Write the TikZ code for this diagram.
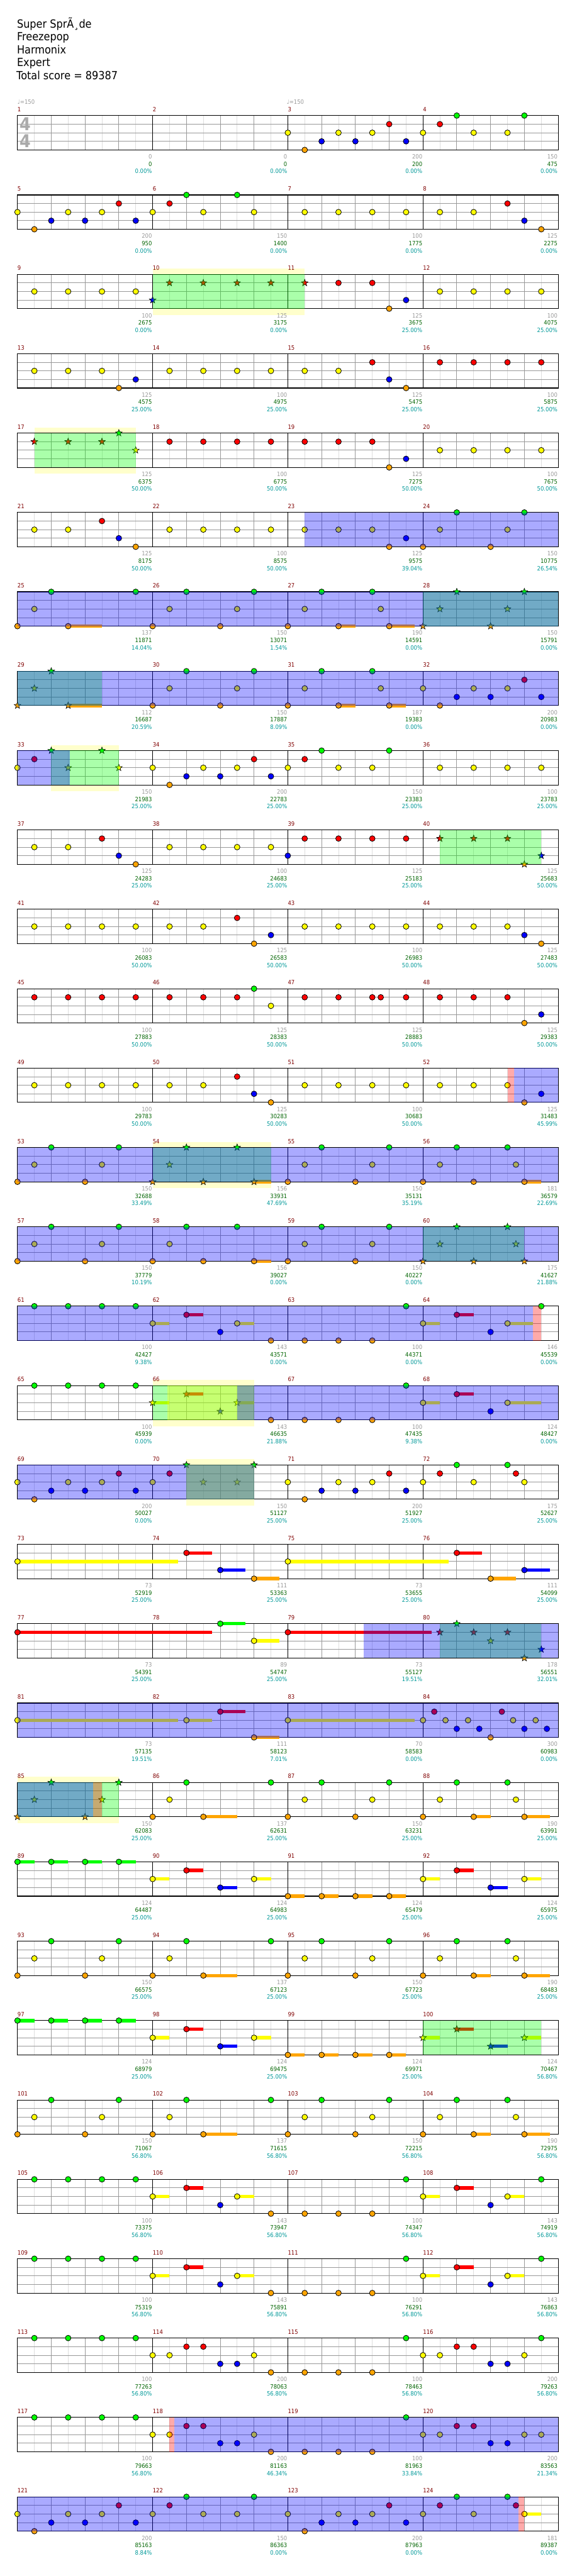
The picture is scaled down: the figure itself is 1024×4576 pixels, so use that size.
\documentclass[tikz,border=0pt]{standalone}
\usepackage{fontspec}
\setmainfont{DejaVu Sans}[FakeStretch=0.9]
\usetikzlibrary{shapes.geometric}

\definecolor{lane0}{RGB}{0,255,0}
\definecolor{lane1}{RGB}{255,0,0}
\definecolor{lane2}{RGB}{255,255,0}
\definecolor{lane3}{RGB}{0,0,255}
\definecolor{lane4}{RGB}{255,165,0}
\definecolor{barred}{RGB}{128,0,0}
\definecolor{gaingray}{RGB}{153,153,153}
\definecolor{metergray}{RGB}{170,170,170}
\definecolor{totalgreen}{RGB}{0,100,0}
\definecolor{pctcyan}{RGB}{0,153,153}
\definecolor{bandyellow}{RGB}{255,255,204}

\tikzset{
  chart/row/.style={shift={(31,{205.3+141*#1})}, /utils/exec={\def\currow{#1}}},
  chart/half/.style={draw=black!13, line width=1pt},
  chart/beat/.style={draw=gaingray, line width=1pt},
  chart/lane/.style={draw=gaingray, line width=1pt},
  chart/bar/.style={draw=black, line width=1pt},
  chart/frame/.style={draw=black, line width=1.2pt},
  chart/note/.style={circle, draw=black, line width=0.9pt, minimum size=10pt, inner sep=0pt},
  chart/star/.style={star, star points=5, star point ratio=2.4, draw=black, line width=0.7pt, minimum size=12.5pt, inner sep=0pt},
  chart/sus/.style={line width=6pt},
  chart/zone/.style={fill opacity=0.3333},
  chart/band/.style={fill=bandyellow},
  chart/label/.style={inner sep=0pt, font=\fontsize{10.5}{12}\selectfont},
  chart/barno/.style={chart/label, text=barred, anchor=base west},
  chart/gain/.style={chart/label, text=gaingray, anchor=base east},
  chart/total/.style={chart/label, text=totalgreen, anchor=base east},
  chart/pct/.style={chart/label, text=pctcyan, anchor=base east},
  chart/tempo/.style={chart/label, text=gaingray, anchor=base west},
  chart/meter/.style={inner sep=0pt, text=metergray, font=\fontsize{31.5}{32}\selectfont\bfseries},
  chart/head/.style={inner sep=0pt, anchor=base west, font=\fontsize{20}{23}\selectfont}
}

\newcommand{\staff}[1]{%
  \fill[white] (0,0) rectangle (960,61);
  \foreach \hx in {1,3,...,31} \draw[chart/half] ({30*\hx},0) -- ({30*\hx},61);
  \foreach \bx in {2,4,6,10,12,14,18,20,22,26,28,30} \draw[chart/beat] ({30*\bx},0) -- ({30*\bx},61);
  \foreach \ly in {1,2,3} \draw[chart/lane] (0,{15.25*\ly}) -- (960,{15.25*\ly});
  \foreach \mx in {1,2,3} \draw[chart/bar] ({240*\mx},0) -- ({240*\mx},61);
  \draw[chart/frame] (0,0) rectangle (960,61);
  \foreach \mx in {0,...,3} {\pgfmathtruncatemacro\bn{#1+\mx}
    \node[chart/barno] (bar\bn) at ({240*\mx},-7) {\bn};}}
\newcommand{\notes}[1]{\foreach \np/\nl [count=\ni] in {#1}
  \node[chart/note, fill=lane\nl] (r\currow-n\ni) at ({30*\np},{15.25*\nl}) {};}
\newcommand{\stars}[1]{\foreach \np/\nl [count=\ni] in {#1}
  \node[chart/star, fill=lane\nl] (r\currow-s\ni) at ({30*\np},{15.25*\nl}) {};}
\newcommand{\sus}[1]{\foreach \np/\nl/\ne in {#1}
  \draw[chart/sus, draw=lane\nl] ({30*\np},{15.25*\nl}) -- ({30*\ne},{15.25*\nl});}
\newcommand{\zone}[3]{\fill[chart/zone, fill=#1] ({30*#2},0) rectangle ({30*#3},61);}
\newcommand{\band}[2]{\fill[chart/band] ({30*#1},-10) rectangle ({30*#2},72);}
\newcommand{\tally}[1]{\foreach \gv/\sv/\pv [count=\mx] in {#1} {
    \node[chart/gain] (r\currow-g\mx) at ({240*\mx-1},77) {\gv};
    \node[chart/total] (r\currow-t\mx) at ({240*\mx-1},90) {\sv};
    \node[chart/pct] (r\currow-p\mx) at ({240*\mx-1},103) {\pv\%};}}

\begin{document}
\begin{tikzpicture}[x=1pt, y=-1pt]
  \useasboundingbox (0,0) rectangle (1024,4576);
  \fill[white] (0,0) rectangle (1024,4576);

  \node[chart/head] (song) at (30,49.3) {Super SprÃ¸de};
  \node[chart/head] (artist) at (30,72.3) {Freezepop};
  \node[chart/head] (author) at (30,95.3) {Harmonix};
  \node[chart/head] (level) at (30,118.3) {Expert};
  \node[chart/head] (score) at (29,141.7) {Total score = 89387};

  \begin{scope}[chart/row=0]
    \staff{1}
    \node[chart/meter] (meter-top) at (13.5,15) {4};
    \node[chart/meter] (meter-bot) at (13.5,45.2) {4};
    \node[chart/tempo] (tempo-a) at (0,-20) {♩=150};
    \node[chart/tempo] (tempo-b) at (478,-20) {♩=150};
    \notes{16/2,17/4,18/3,19/2,20/3,21/2,22/1,23/3,24/2,25/1,26/0,27/2,29/2,30/0}
    \tally{0/0/0.00,0/0/0.00,200/200/0.00,150/475/0.00}
  \end{scope}

  \begin{scope}[chart/row=1]
    \staff{5}
    \notes{0/2,1/4,2/3,3/2,4/3,5/2,6/1,7/3,8/2,9/1,10/0,11/2,13/0,14/2,17/2,19/2,21/2,23/2,25/2,27/2,29/1,30/3,31/4}
    \tally{200/950/0.00,150/1400/0.00,100/1775/0.00,125/2275/0.00}
  \end{scope}

  \begin{scope}[chart/row=2]
    \band{8}{17}
    \staff{9}
    \notes{1/2,3/2,5/2,7/2,19/1,21/1,22/4,23/3,25/2,27/2,29/2,31/2}
    \stars{8/3,9/1,11/1,13/1,15/1,17/1}
    \zone{lane0}{8}{17}
    \tally{100/2675/0.00,125/3175/0.00,125/3675/25.00,100/4075/25.00}
  \end{scope}

  \begin{scope}[chart/row=3]
    \staff{13}
    \notes{1/2,3/2,5/2,6/4,7/3,9/2,11/2,13/2,15/2,17/2,19/2,21/1,22/3,23/4,25/1,27/1,29/1,31/1}
    \tally{125/4575/25.00,100/4975/25.00,125/5475/25.00,100/5875/25.00}
  \end{scope}

  \begin{scope}[chart/row=4]
    \band{1}{7}
    \staff{17}
    \notes{9/1,11/1,13/1,15/1,17/1,19/1,21/1,22/4,23/3,25/2,27/2,29/2,31/2}
    \stars{1/1,3/1,5/1,6/0,7/2}
    \zone{lane0}{1}{7}
    \tally{125/6375/50.00,100/6775/50.00,125/7275/50.00,100/7675/50.00}
  \end{scope}

  \begin{scope}[chart/row=5]
    \staff{21}
    \notes{1/2,3/2,5/1,6/3,7/4,9/2,11/2,13/2,15/2,17/2,19/2,21/2,22/4,23/3,24/4,25/2,26/0,28/4,29/2,30/0}
    \zone{lane3}{17}{32}
    \tally{125/8175/50.00,100/8575/50.00,125/9575/39.04,150/10775/26.54}
  \end{scope}

  \begin{scope}[chart/row=6]
    \staff{25}
    \sus{3/4/5,19/4/20,22/4/23.5}
    \notes{0/4,1/2,2/0,3/4,7/0,8/4,9/2,10/0,12/4,13/2,14/0,16/4,17/2,18/0,19/4,21/0,21.5/2,22/4}
    \stars{24/4,25/2,26/0,28/4,29/2,30/0}
    \zone{lane0}{24}{32}
    \zone{lane3}{0}{32}
    \tally{137/11871/14.04,150/13071/1.54,190/14591/0.00,150/15791/0.00}
  \end{scope}

  \begin{scope}[chart/row=7]
    \staff{29}
    \sus{3/4/5,19/4/20,22/4/23}
    \notes{8/4,9/2,10/0,12/4,13/2,14/0,16/4,17/2,18/0,19/4,21/0,21.5/2,22/4,24/2,25/4,26/3,27/2,28/3,29/2,30/1,31/3}
    \stars{0/4,1/2,2/0,3/4}
    \zone{lane0}{0}{5}
    \zone{lane3}{0}{32}
    \tally{112/16687/20.59,150/17887/8.09,187/19383/0.00,200/20983/0.00}
  \end{scope}

  \begin{scope}[chart/row=8]
    \band{2}{6}
    \staff{33}
    \notes{0/2,1/1,8/2,9/4,10/3,11/2,12/3,13/2,14/1,15/3,16/2,17/1,18/0,19/2,21/2,22/0,25/2,27/2,29/2,31/2}
    \stars{2/0,3/2,5/0,6/2}
    \zone{lane0}{2}{6}
    \zone{lane3}{0}{3.1}
    \tally{150/21983/25.00,200/22783/25.00,150/23383/25.00,100/23783/25.00}
  \end{scope}

  \begin{scope}[chart/row=9]
    \staff{37}
    \notes{1/2,3/2,5/1,6/3,7/4,9/2,11/2,13/2,15/2,16/3,17/1,19/1,21/1,23/1}
    \stars{25/1,27/1,29/1,30/4,31/3}
    \zone{lane0}{25}{31}
    \tally{125/24283/25.00,100/24683/25.00,125/25183/25.00,125/25683/50.00}
  \end{scope}

  \begin{scope}[chart/row=10]
    \staff{41}
    \notes{1/2,3/2,5/2,7/2,9/2,11/2,13/1,14/4,15/3,17/2,19/2,21/2,23/2,25/2,27/2,29/2,30/3,31/4}
    \tally{100/26083/50.00,125/26583/50.00,100/26983/50.00,125/27483/50.00}
  \end{scope}

  \begin{scope}[chart/row=11]
    \staff{45}
    \notes{1/1,3/1,5/1,7/1,9/1,11/1,13/1,14/0,15/2,17/1,19/1,21/1,21.5/1,23/1,25/1,27/1,29/1,30/4,31/3}
    \tally{100/27883/50.00,125/28383/50.00,125/28883/50.00,125/29383/50.00}
  \end{scope}

  \begin{scope}[chart/row=12]
    \staff{49}
    \notes{1/2,3/2,5/2,7/2,9/2,11/2,13/1,14/3,15/4,17/2,19/2,21/2,23/2,25/2,27/2,29/2,30/4,31/3}
    \zone{lane1}{29}{29.4}
    \zone{lane3}{29.4}{32}
    \tally{100/29783/50.00,125/30283/50.00,100/30683/50.00,125/31483/45.99}
  \end{scope}

  \begin{scope}[chart/row=13]
    \band{8}{15}
    \staff{53}
    \sus{14/4/15,30/4/31}
    \notes{0/4,1/2,2/0,4/4,5/2,6/0,16/4,17/2,18/0,20/4,21/2,22/0,24/4,25/2,26/0,27/4,29/0,29.5/2,30/4}
    \stars{8/4,9/2,10/0,11/4,13/0,14/4}
    \zone{lane0}{8}{15}
    \zone{lane3}{0}{32}
    \tally{150/32688/33.49,156/33931/47.69,150/35131/35.19,181/36579/22.69}
  \end{scope}

  \begin{scope}[chart/row=14]
    \staff{57}
    \sus{14/4/15}
    \notes{0/4,1/2,2/0,4/4,5/2,6/0,8/4,9/2,10/0,11/4,13/0,14/4,16/4,17/2,18/0,20/4,21/2,22/0}
    \stars{24/4,25/2,26/0,27/4,29/0,29.5/2,30/4}
    \zone{lane0}{24}{30}
    \zone{lane3}{0}{32}
    \tally{150/37779/10.19,156/39027/0.00,150/40227/0.00,175/41627/21.88}
  \end{scope}

  \begin{scope}[chart/row=15]
    \staff{61}
    \sus{8/2/9,10/1/11,13/2/14,24/2/25,26/1/27,29/2/30.5}
    \notes{1/0,3/0,5/0,7/0,8/2,10/1,12/3,13/2,15/4,17/4,19/4,21/4,23/0,24/2,26/1,28/3,29/2,31/0}
    \zone{lane1}{30.5}{31}
    \zone{lane3}{0}{30.5}
    \tally{100/42427/9.38,143/43571/0.00,100/44371/0.00,146/45539/0.00}
  \end{scope}

  \begin{scope}[chart/row=16]
    \band{8}{14}
    \staff{65}
    \sus{8/2/9,10/1/11,13/2/14,24/2/25,26/1/27,29/2/31}
    \notes{1/0,3/0,5/0,7/0,15/4,17/4,19/4,21/4,23/0,24/2,26/1,28/3,29/2}
    \stars{8/2,10/1,12/3,13/2}
    \zone{lane0}{8}{14}
    \zone{lane2}{8.87}{14}
    \zone{lane3}{13}{32}
    \tally{100/45939/0.00,143/46635/21.88,100/47435/9.38,124/48427/0.00}
  \end{scope}

  \begin{scope}[chart/row=17]
    \band{10}{14}
    \staff{69}
    \notes{0/2,1/4,2/3,3/2,4/3,5/2,6/1,7/3,8/2,9/1,16/2,17/4,18/3,19/2,20/3,21/2,22/1,23/3,24/2,25/1,26/0,27/2,29/0,29.5/1,30/2}
    \stars{10/0,11/2,13/2,14/0}
    \zone{lane0}{10}{14}
    \zone{lane2}{10}{14}
    \zone{lane3}{0}{14}
    \tally{200/50027/0.00,150/51127/25.00,200/51927/25.00,175/52627/25.00}
  \end{scope}

  \begin{scope}[chart/row=18]
    \staff{73}
    \sus{0/2/9.5,10/1/11.5,12/3/13.5,14/4/15.5,16/2/25.5,26/1/27.5,28/4/29.5,30/3/31.5}
    \notes{0/2,10/1,12/3,14/4,16/2,26/1,28/4,30/3}
    \tally{73/52919/25.00,111/53363/25.00,73/53655/25.00,111/54099/25.00}
  \end{scope}

  \begin{scope}[chart/row=19]
    \staff{77}
    \sus{0/1/11.5,12/0/13.5,14/2/15.5,16/1/24.5}
    \notes{0/1,12/0,14/2,16/1}
    \stars{25/1,26/0,27/1,28/2,29/1,30/4,31/3}
    \zone{lane0}{25}{31}
    \zone{lane3}{20.5}{32}
    \tally{73/54391/25.00,89/54747/25.00,73/55127/19.51,178/56551/32.01}
  \end{scope}

  \begin{scope}[chart/row=20]
    \staff{81}
    \sus{0/2/9.5,10/2/11.5,12/1/13.5,14/4/15.5,16/2/23.5}
    \notes{0/2,10/2,12/1,14/4,16/2,24/2,24.667/1,25.333/2,26/3,26.667/2,27.333/3,28/4,28.667/1,29.333/2,30/3,30.667/2,31.333/3}
    \zone{lane3}{0}{32}
    \tally{73/57135/19.51,111/58123/7.01,70/58583/0.00,300/60983/0.00}
  \end{scope}

  \begin{scope}[chart/row=21]
    \band{0}{6}
    \staff{85}
    \sus{11/4/13,27/4/28,30/4/31.5}
    \notes{8/4,9/2,10/0,11/4,15/0,16/4,17/2,18/0,20/4,21/2,22/0,24/4,25/2,26/0,27/4,29/0,29.5/2,30/4}
    \stars{0/4,1/2,2/0,4/4,5/2,6/0}
    \zone{lane0}{0}{6}
    \zone{lane1}{4.47}{5}
    \zone{lane3}{0}{4.47}
    \tally{150/62083/25.00,137/62631/25.00,150/63231/25.00,190/63991/25.00}
  \end{scope}

  \begin{scope}[chart/row=22]
    \staff{89}
    \sus{0/0/1,2/0/3,4/0/5,6/0/7,8/2/9,10/1/11,12/3/13,14/2/15,16/4/17,18/4/19,20/4/21,22/4/23,24/2/25,26/1/27,28/3/29,30/2/31}
    \notes{0/0,2/0,4/0,6/0,8/2,10/1,12/3,14/2,16/4,18/4,20/4,22/4,24/2,26/1,28/3,30/2}
    \tally{124/64487/25.00,124/64983/25.00,124/65479/25.00,124/65975/25.00}
  \end{scope}

  \begin{scope}[chart/row=23]
    \staff{93}
    \sus{11/4/13,27/4/28,30/4/31.5}
    \notes{0/4,1/2,2/0,4/4,5/2,6/0,8/4,9/2,10/0,11/4,15/0,16/4,17/2,18/0,20/4,21/2,22/0,24/4,25/2,26/0,27/4,29/0,29.5/2,30/4}
    \tally{150/66575/25.00,137/67123/25.00,150/67723/25.00,190/68483/25.00}
  \end{scope}

  \begin{scope}[chart/row=24]
    \staff{97}
    \sus{0/0/1,2/0/3,4/0/5,6/0/7,8/2/9,10/1/11,12/3/13,14/2/15,16/4/17,18/4/19,20/4/21,22/4/23,24/2/25,26/1/27,28/3/29,30/2/31}
    \notes{0/0,2/0,4/0,6/0,8/2,10/1,12/3,14/2,16/4,18/4,20/4,22/4}
    \stars{24/2,26/1,28/3,30/2}
    \zone{lane0}{24}{31}
    \tally{124/68979/25.00,124/69475/25.00,124/69971/25.00,124/70467/56.80}
  \end{scope}

  \begin{scope}[chart/row=25]
    \staff{101}
    \sus{11/4/13,27/4/28,30/4/31.5}
    \notes{0/4,1/2,2/0,4/4,5/2,6/0,8/4,9/2,10/0,11/4,15/0,16/4,17/2,18/0,20/4,21/2,22/0,24/4,25/2,26/0,27/4,29/0,29.5/2,30/4}
    \tally{150/71067/56.80,137/71615/56.80,150/72215/56.80,190/72975/56.80}
  \end{scope}

  \begin{scope}[chart/row=26]
    \staff{105}
    \sus{8/2/9,10/1/11,13/2/14,24/2/25,26/1/27,29/2/30}
    \notes{1/0,3/0,5/0,7/0,8/2,10/1,12/3,13/2,15/4,17/4,19/4,21/4,23/0,24/2,26/1,28/3,29/2,31/0}
    \tally{100/73375/56.80,143/73947/56.80,100/74347/56.80,143/74919/56.80}
  \end{scope}

  \begin{scope}[chart/row=27]
    \staff{109}
    \sus{8/2/9,10/1/11,13/2/14,24/2/25,26/1/27,29/2/30}
    \notes{1/0,3/0,5/0,7/0,8/2,10/1,12/3,13/2,15/4,17/4,19/4,21/4,23/0,24/2,26/1,28/3,29/2,31/0}
    \tally{100/75319/56.80,143/75891/56.80,100/76291/56.80,143/76863/56.80}
  \end{scope}

  \begin{scope}[chart/row=28]
    \staff{113}
    \notes{1/0,3/0,5/0,7/0,8/2,9/2,10/1,11/1,12/3,13/3,14/2,15/4,17/4,19/4,21/4,23/0,24/2,25/2,26/1,27/1,28/3,29/3,30/2,31/0}
    \tally{100/77263/56.80,200/78063/56.80,100/78463/56.80,200/79263/56.80}
  \end{scope}

  \begin{scope}[chart/row=29]
    \staff{117}
    \notes{1/0,3/0,5/0,7/0,8/2,9/2,10/1,11/1,12/3,13/3,14/2,15/4,17/4,19/4,21/4,23/0,24/2,25/2,26/1,27/1,28/3,29/3,30/2,31/2}
    \zone{lane1}{9}{9.3}
    \zone{lane3}{9.3}{32}
    \tally{100/79663/56.80,200/81163/46.34,100/81963/33.84,200/83563/21.34}
  \end{scope}

  \begin{scope}[chart/row=30]
    \staff{121}
    \sus{30/2/31}
    \notes{0/2,1/4,2/3,3/2,4/3,5/2,6/1,7/3,8/2,9/1,10/0,11/2,13/2,14/0,16/2,17/4,18/3,19/2,20/3,21/2,22/1,23/3,24/2,25/1,26/0,27/2,29/0,29.5/1,30/2}
    \zone{lane1}{29.65}{30}
    \zone{lane3}{0}{29.65}
    \tally{200/85163/8.84,150/86363/0.00,200/87963/0.00,181/89387/0.00}
  \end{scope}
\end{tikzpicture}
\end{document}
